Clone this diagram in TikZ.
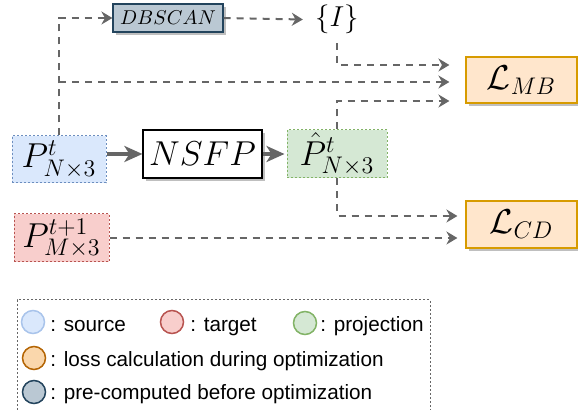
\documentclass[tikz,border=0pt]{standalone}
\usepackage{fontspec}
\newfontfamily\keyfont{Liberation Sans}
\usetikzlibrary{arrows.meta,shadows}

\definecolor{srcfill}{HTML}{DAE8FC}
\definecolor{srcline}{HTML}{6C8EBF}
\definecolor{srckey}{HTML}{A9C4EB}
\definecolor{tgtfill}{HTML}{F8CECC}
\definecolor{tgtline}{HTML}{B85450}
\definecolor{projfill}{HTML}{D5E8D4}
\definecolor{projline}{HTML}{82B366}
\definecolor{lossfill}{HTML}{FFE6CC}
\definecolor{lossline}{HTML}{D79B00}
\definecolor{losskey}{HTML}{FAD7AC}
\definecolor{losskeyline}{HTML}{B46504}
\definecolor{prefill}{HTML}{BAC8D3}
\definecolor{preline}{HTML}{23445D}
\definecolor{arrowgray}{HTML}{666666}

\begin{document}
\begin{tikzpicture}[x=0.5pt, y=-0.5pt,
  main/.style = {rectangle, inner sep=0pt, font=\fontsize{16.4}{19}\selectfont},
  pts/.style = {main, line width=0.5pt, dash pattern=on 1pt off 1pt},
  shade/.style = {drop shadow={shadow xshift=1.5pt, shadow yshift=-1.5pt, fill=black, opacity=.25}},
  loss/.style = {main, shade, draw=lossline, fill=lossfill, line width=0.6pt, minimum width=55.5pt},
  flow/.style = {draw=arrowgray, line width=1pt, dash pattern=on 3.5pt off 3pt,
    -{Stealth[length=5.5pt, width=6.5pt, inset=1.8pt]}},
  push/.style = {draw=arrowgray, line width=2pt, -{Stealth[length=9pt, width=8pt, inset=2.5pt]}},
  key/.style = {circle, minimum size=11.5pt, inner sep=0pt, line width=0.75pt},
  keytext/.style = {anchor=base west, inner sep=0pt, font=\keyfont\fontsize{10.35}{12}\selectfont}]
\useasboundingbox (0,0) rectangle (578,410);

% point clouds and the flow network
\node[pts, draw=srcline, fill=srcfill, minimum width=47pt, minimum height=23.5pt] (src) at (59,159.5) {$P^{t}_{N\times 3}$};
\node[pts, draw=tgtline, fill=tgtfill, minimum width=47.5pt, minimum height=24pt] (tgt) at (61.5,238) {$P^{t+1}_{M\times 3}$};
\node[main, shade, draw, fill=white, line width=0.6pt, minimum width=59.5pt, minimum height=24pt] (nsfp) at (202.5,154) {$NSFP$};
\node[pts, draw=projline, fill=projfill, minimum width=50pt, minimum height=24pt] (proj) at (337,154) {$\hat{P}^{t}_{N\times 3}$};

% clustering done once before optimization
\node[main, shade, draw=preline, fill=prefill, line width=0.6pt, minimum width=55pt, minimum height=14pt,
  font=\fontsize{10}{12}\selectfont] (dbscan) at (168,18) {$DBSCAN$};
\node[main, inner xsep=6pt, inner ysep=4.5pt, font=\fontsize{13.5}{16}\selectfont] (clus) at (337,19.5) {$\{I\}$};

% losses
\node[loss, minimum height=23pt] (lmb) at (521.5,80) {$\mathcal{L}_{MB}$};
\node[loss, minimum height=23.5pt] (lcd) at (521.5,224.5) {$\mathcal{L}_{CD}$};

\coordinate (mbtop) at ([xshift=-8pt, yshift=7.5pt]lmb.west);
\coordinate (mbmid) at ([xshift=-8pt, yshift=-1pt]lmb.west);
\coordinate (mbbot) at ([xshift=-8pt, yshift=-10.5pt]lmb.west);
\coordinate (cdtop) at ([xshift=-4pt, yshift=4.25pt]lcd.west);
\coordinate (cdbot) at ([xshift=-4pt]lcd.west);

\draw[push] (src.east |- nsfp.west) -- (nsfp.west);
\draw[push] (nsfp.east) -- ([xshift=-1pt]proj.west);

\draw[flow] (src.north) |- (dbscan.west);
\draw[flow] (dbscan.east) -- (clus.west);
\draw[flow] (clus.south) |- (mbtop);
\draw[flow] (src.north |- mbmid) -- (mbmid);
\draw[flow] (proj.north) |- (mbbot);
\draw[flow] (proj.south) |- (cdtop);
\draw[flow] (tgt.east) -- (cdbot |- tgt.east);

% legend
\draw[arrowgray, line width=0.5pt, dash pattern=on 1pt off 1pt] (17,410) |- (430,300) -- (430,410);
\node[key, draw=srckey, fill=srcfill] (ksrc) at (33,322) {};
\node[keytext] (tsrc) at (50,332) {: source};
\node[key, draw=tgtline, fill=tgtfill] (ktgt) at (172,322) {};
\node[keytext] (ttgt) at (190,332) {: target};
\node[key, draw=projline, fill=projfill] (kproj) at (305,323) {};
\node[keytext] (tproj) at (320,332) {: projection};
\node[key, draw=losskeyline, fill=losskey] (kloss) at (34,358) {};
\node[keytext] (tloss) at (50,367) {: loss calculation during optimization};
\node[key, draw=preline, fill=prefill] (kpre) at (34,392) {};
\node[keytext] (tpre) at (50,400) {: pre-computed before optimization};
\end{tikzpicture}
\end{document}
